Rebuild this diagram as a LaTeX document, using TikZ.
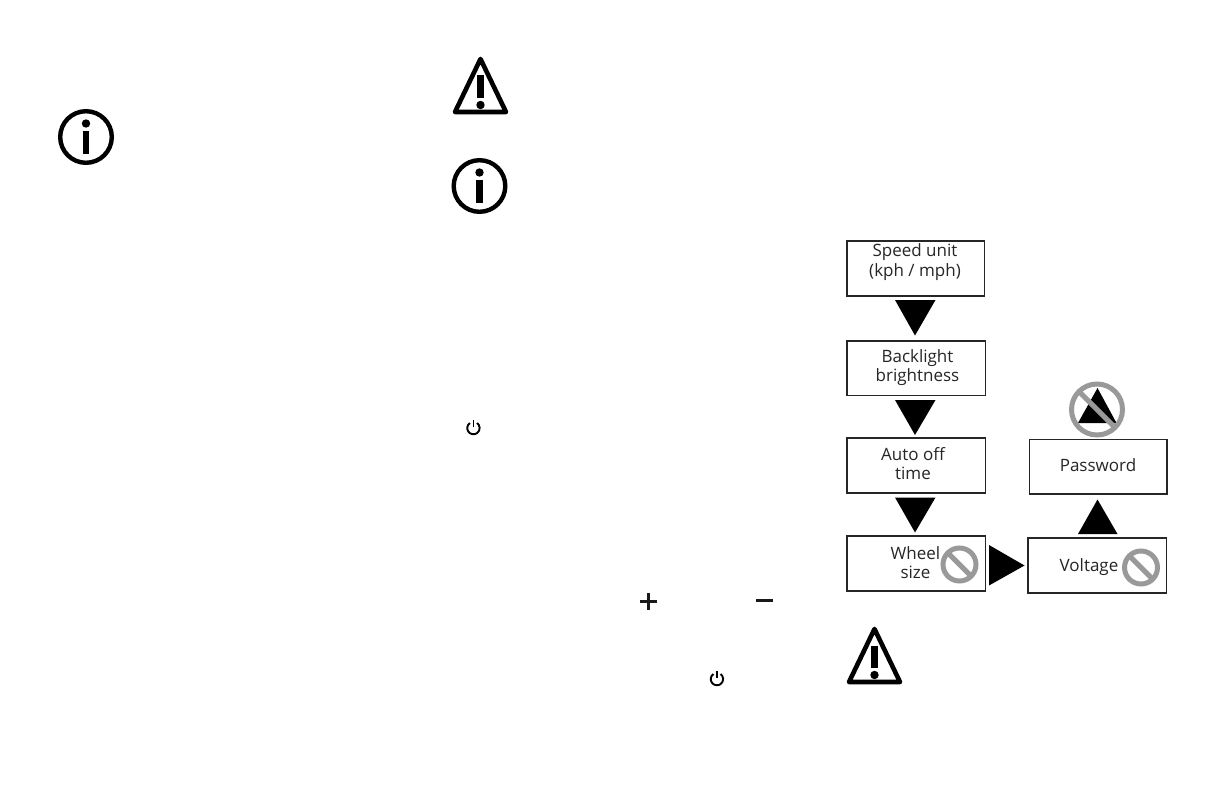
\documentclass[tikz,border=0pt]{standalone}
\usepackage{fontspec}
\setmainfont{Open Sans}
\tikzset{
  px/.style={x=1pt,y=-1pt},
  flowbox/.style={draw=black!85,line width=1.5pt,inner sep=0pt,outer sep=0pt},
  flowtext/.style={inner sep=0pt,align=center,font=\fontsize{17}{19.5}\selectfont,text=black!85},
  flowtri/.style={fill=black,draw=none},
  nosign/.style={draw=black!40,line width=5pt},
  iconline/.style={draw=black,line width=4.6pt,line join=round},
  iconbar/.style={draw=black,line width=6.2pt},
  powerline/.style={draw=black,line width=1.9pt},
  pmbar/.style={draw=black!90,line width=3pt},
}
\newcommand{\warnicon}[2]{%
  \begin{scope}[shift={(#1pt,-#2pt)}]
    \draw[iconline] (0,-26.5) -- (-25.5,26.5) -- (25.5,26.5) -- cycle;
    \draw[iconbar] (0,-10) -- (0,12);
    \fill (0,19.5) circle (4.2pt);
  \end{scope}}
\newcommand{\infoicon}[2]{%
  \begin{scope}[shift={(#1pt,-#2pt)}]
    \draw[draw=black,line width=4.4pt] (0,0) circle (25.8pt);
    \fill (0,-13.5) circle (4.2pt);
    \draw[draw=black,line width=6.2pt] (0,-6) -- (0,17);
  \end{scope}}
\newcommand{\powericon}[2]{%
  \begin{scope}[shift={(#1pt,-#2pt)}]
    \draw[powerline] (-3.6,-5) arc[start angle=125,end angle=415,radius=6.2pt];
    \draw[powerline] (0,-8) -- (0,-1);
  \end{scope}}
\newcommand{\noicon}[3]{%
  \begin{scope}[shift={(#1pt,-#2pt)}]
    \draw[nosign] (0,0) circle (#3pt);
    \draw[nosign] (-0.7071*#3,-0.7071*#3) -- (0.7071*#3,0.7071*#3);
  \end{scope}}
\begin{document}
\begin{tikzpicture}[px]
\useasboundingbox (0,0) rectangle (1224,792);
\fill[white] (0,0) rectangle (1224,792);
% flow boxes
\draw[flowbox] (847,241) rectangle (984.5,296);
\draw[flowbox] (847,341) rectangle (985.5,395.5);
\draw[flowbox] (847,438) rectangle (985.5,493);
\draw[flowbox] (847,536) rectangle (985.5,591);
\draw[flowbox] (1028,538) rectangle (1166.5,593);
\draw[flowbox] (1029.5,439.5) rectangle (1167,494);
% labels
\node[flowtext] (speed) at (915,262) {Speed unit\\(kph / mph)};
\node[flowtext] (back) at (917.5,367.5) {Backlight\\brightness};
\node[flowtext] (auto) at (913,463.5) {Auto off\\time};
\node[flowtext] (wheel) at (915.5,562.5) {Wheel\\size};
\node[flowtext] (volt) at (1089,567) {Voltage};
\node[flowtext] (pass) at (1098,465) {Password};
% triangles
\fill[flowtri] (895,300) -- (935.5,300) -- (915,335.5) -- cycle;
\fill[flowtri] (895,400) -- (935.5,400) -- (915,435) -- cycle;
\fill[flowtri] (895,497.5) -- (935.5,497.5) -- (915,532.5) -- cycle;
\fill[flowtri] (989,545) -- (989,585.5) -- (1024.5,565.5) -- cycle;
\fill[flowtri] (1078,534) -- (1117.5,534) -- (1097.5,499.5) -- cycle;
\fill[flowtri] (1078,423) -- (1116.5,423) -- (1097.5,388) -- cycle;
% prohibition signs
\noicon{1097}{409.5}{25.5}
\noicon{959.5}{564.5}{16.5}
\noicon{1141}{567.5}{16.5}
% icons
\warnicon{480.5}{85.5}
\warnicon{874.5}{655.5}
\infoicon{479.5}{186}
\infoicon{86}{137}
\powericon{473.5}{428}
\powericon{717}{679}
% plus and minus
\draw[pmbar] (639.5,601) -- (656.5,601);
\draw[pmbar] (648,592.5) -- (648,610);
\draw[pmbar] (756,600.5) -- (773,600.5);
\end{tikzpicture}
\end{document}
